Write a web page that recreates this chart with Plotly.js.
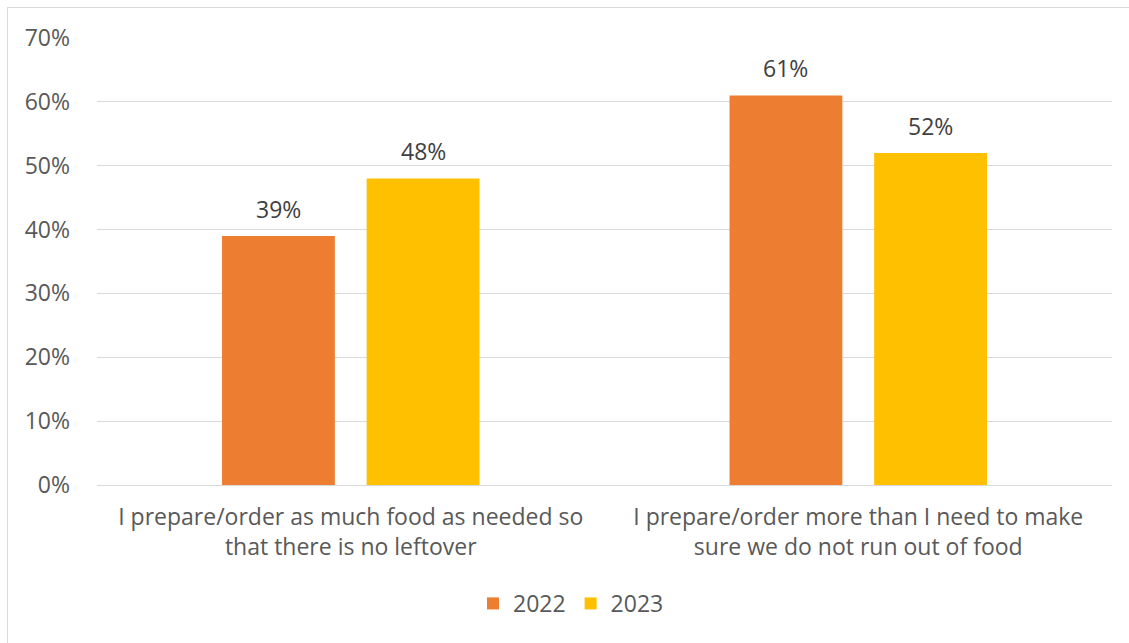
<!DOCTYPE html>
<html>
<head>
<meta charset="utf-8">
<script src="https://cdn.plot.ly/plotly-3.0.1.min.js"></script>
<style>
html,body{margin:0;padding:0;background:#fff;}
#wrap{position:relative;width:1129px;height:643px;overflow:hidden;}
#chart{position:absolute;left:0;top:0;width:1129px;height:643px;}
#frame{position:absolute;left:7px;top:7px;width:1160px;height:700px;border:1px solid #d9d9d9;pointer-events:none;}
</style>
</head>
<body>
<div id="wrap"><div id="chart"></div><div id="frame"></div></div>
<script>
const categories = [
  "I prepare/order as much food as needed so<br>that there is no leftover",
  "I prepare/order more than I need to make<br>sure we do not run out of food"
];
const seriesNames = ["2022", "2023"];
const values2022 = [39, 61];
const values2023 = [48, 52];
const colors = ["#ED7D31", "#FFC000"];
const fontFam = "'Open Sans', sans-serif";
const fs = 23;
const bargap = 0.43;
const series = [values2022, values2023];

const traces = series.map((vals, i) => ({
  type: "bar",
  name: seriesNames[i],
  x: categories,
  y: vals,
  marker: {color: colors[i]},
  hoverinfo: "none"
}));

// data labels placed over each bar, using the group layout from bargap
const slot = (1 - bargap) / series.length;
const annotations = [];
series.forEach((vals, j) => {
  vals.forEach((v, i) => {
    annotations.push({
      x: i + (j - (series.length - 1) / 2) * slot,
      y: v, xref: "x", yref: "y",
      text: v + "%", showarrow: false,
      yanchor: "bottom", yshift: 9,
      font: {size: fs, color: "#404040", family: fontFam}
    });
  });
});

const layout = {
  width: 1129, height: 643,
  margin: {l: 97, r: 17, t: 38, b: 158},
  paper_bgcolor: "rgba(0,0,0,0)",
  plot_bgcolor: "#fff",
  font: {family: fontFam, size: fs, color: "#595959"},
  barmode: "group",
  bargap: bargap,
  bargroupgap: 0.22,
  showlegend: true,
  annotations: annotations,
  legend: {orientation: "h", x: 0.467, xanchor: "center", y: -0.265, yanchor: "middle",
           font: {size: fs, color: "#595959"}, itemwidth: 30, tracegroupgap: 0},
  xaxis: {type: "category", showgrid: false, zeroline: false, showline: false,
          ticks: "", ticklabelstandoff: 16, tickfont: {size: fs, color: "#595959"}, automargin: false},
  yaxis: {range: [0, 70], dtick: 10, ticksuffix: "%", showgrid: true, gridcolor: "#d9d9d9",
          gridwidth: 1, zeroline: true, zerolinecolor: "#d9d9d9", zerolinewidth: 1,
          showline: false, ticks: "", ticklabelstandoff: 26,
          tickfont: {size: fs, color: "#595959"}, automargin: false, fixedrange: true}
};

Plotly.newPlot("chart", traces, layout, {displayModeBar: false, staticPlot: true});
</script>
</body>
</html>
